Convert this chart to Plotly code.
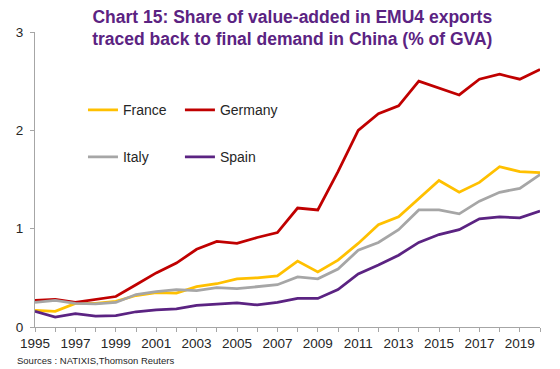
import plotly.graph_objects as go

years = list(range(1995, 2021))
france = [0.17, 0.16, 0.24, 0.24, 0.26, 0.32, 0.35, 0.345, 0.41, 0.44, 0.49, 0.50, 0.52,
          0.67, 0.56, 0.68, 0.85, 1.04, 1.12, 1.31, 1.49, 1.37, 1.47, 1.63, 1.58, 1.57]
germany = [0.27, 0.28, 0.25, 0.28, 0.31, 0.43, 0.55, 0.65, 0.79, 0.87, 0.85, 0.91, 0.96,
           1.21, 1.19, 1.58, 2.00, 2.17, 2.25, 2.50, 2.43, 2.36, 2.52, 2.57, 2.52, 2.62]
italy = [0.25, 0.27, 0.24, 0.235, 0.25, 0.33, 0.36, 0.38, 0.37, 0.40, 0.39, 0.41, 0.43,
         0.51, 0.49, 0.59, 0.78, 0.86, 0.99, 1.19, 1.19, 1.15, 1.28, 1.37, 1.41, 1.55]
spain = [0.16, 0.10, 0.135, 0.11, 0.115, 0.155, 0.175, 0.185, 0.22, 0.235, 0.245, 0.225, 0.25,
         0.29, 0.29, 0.38, 0.54, 0.63, 0.73, 0.86, 0.94, 0.99, 1.10, 1.12, 1.11, 1.18]

series = [
    ("France", france, "#FFC000", "legend"),
    ("Germany", germany, "#C00000", "legend2"),
    ("Italy", italy, "#A6A6A6", "legend3"),
    ("Spain", spain, "#5B2382", "legend4"),
]

fig = go.Figure()
for name, vals, color, lg in series:
    fig.add_trace(go.Scatter(x=years, y=vals, name=name, mode="lines", showlegend=True,
                             line=dict(color=color, width=2.75), legend=lg))

legend_common = dict(orientation="h", bgcolor="rgba(0,0,0,0)",
                     font=dict(family="Arial, Liberation Sans", size=14, color="#262626"),
                     xanchor="left", yanchor="middle", itemclick=False, visible=True)

fig.update_layout(
    width=560, height=369,
    showlegend=True,
    margin=dict(l=35, r=20, t=32, b=42),
    paper_bgcolor="white", plot_bgcolor="white",
    font=dict(family="Arial, Liberation Sans", size=13.5, color="#262626"),
    title=dict(text="Chart 15: Share of value-added in EMU4 exports<br>traced back to final demand in China (% of GVA)",
               x=0.522, xanchor="center", y=0.9385, yanchor="middle",
               font=dict(family="Arial, Liberation Sans", size=17.5, color="#5B2382", weight="bold")),
    legend=dict(x=0.095, y=0.735, **legend_common),
    legend2=dict(x=0.287, y=0.735, **legend_common),
    legend3=dict(x=0.095, y=0.575, **legend_common),
    legend4=dict(x=0.287, y=0.575, **legend_common),
    xaxis=dict(range=[1995, 2020], tickmode="linear", tick0=1995, dtick=2,
               ticks="outside", ticklen=4, tickcolor="#A6A6A6",
               showline=True, linecolor="#A6A6A6", linewidth=1,
               showgrid=False, zeroline=False,
               minor=dict(dtick=1, tick0=1995, ticks="outside", ticklen=4, tickcolor="#A6A6A6", showgrid=False)),
    yaxis=dict(range=[0, 3], tickmode="linear", tick0=0, dtick=1,
               ticks="outside", ticklen=4, tickcolor="#A6A6A6", ticklabelstandoff=4,
               showline=True, linecolor="#A6A6A6", linewidth=1,
               showgrid=False, zeroline=False),
    annotations=[dict(text="Sources : NATIXIS,Thomson Reuters", xref="paper", yref="paper",
                      x=-0.0396, y=-0.114, xanchor="left", yanchor="middle", showarrow=False,
                      font=dict(family="Arial, Liberation Sans", size=9.5, color="#262626"))],
)

fig.write_html("out.html", config={"displayModeBar": False},
               post_script="document.body.style.margin='0';")
